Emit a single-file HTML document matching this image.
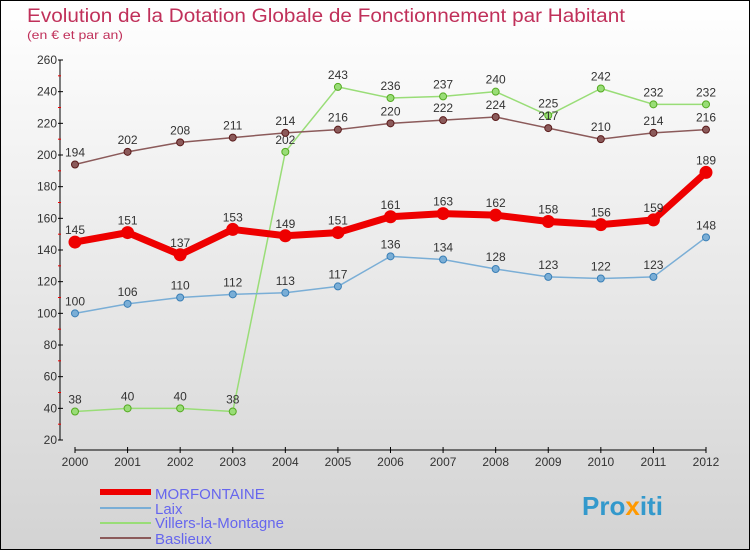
<!DOCTYPE html>
<html><head><meta charset="utf-8"><style>
body{margin:0}svg{display:block;font-family:"Liberation Sans",sans-serif}
</style></head><body>
<svg id="c" width="750" height="550">
<defs><linearGradient id="bg" x1="0" y1="0" x2="0" y2="1"><stop offset="0" stop-color="#ffffff"/><stop offset="1" stop-color="#d3d3d3"/></linearGradient></defs>
<rect x="0.5" y="0.5" width="749" height="549" fill="url(#bg)" stroke="#000"/>
<text x="27" y="22" font-size="19" fill="#c0305a" textLength="598" lengthAdjust="spacingAndGlyphs">Evolution de la Dotation Globale de Fonctionnement par Habitant</text>
<text x="27" y="39" font-size="12" fill="#c0305a" textLength="96" lengthAdjust="spacingAndGlyphs">(en € et par an)</text>
<g id="axes"></g><g id="series"></g>
<g>
<rect x="100" y="489" width="51" height="6" fill="#e00"/>
<text x="155" y="499" font-size="15" fill="#6666ee">MORFONTAINE</text>
<rect x="100" y="507" width="51" height="2" fill="#7aaed6"/>
<text x="155" y="514" font-size="15" fill="#6666ee">Laix</text>
<rect x="100" y="522" width="51" height="2" fill="#99dd77"/>
<text x="155" y="528" font-size="15" fill="#6666ee">Villers-la-Montagne</text>
<rect x="100" y="537" width="51" height="2" fill="#8b5a5a"/>
<text x="155" y="544" font-size="15" fill="#6666ee">Baslieux</text>
</g>
<text x="582" y="515" font-size="26" font-weight="bold" fill="#3399cc">Pro<tspan fill="#ff9900">x</tspan>iti</text>
</svg>
<script>
const years=[2000,2001,2002,2003,2004,2005,2006,2007,2008,2009,2010,2011,2012];
const yTicks=[20,40,60,80,100,120,140,160,180,200,220,240,260];
const morfontaine=[145,151,137,153,149,151,161,163,162,158,156,159,189];
const laix=[100,106,110,112,113,117,136,134,128,123,122,123,148];
const villers=[38,40,40,38,202,243,236,237,240,225,242,232,232];
const baslieux=[194,202,208,211,214,216,220,222,224,217,210,214,216];
const NS="http://www.w3.org/2000/svg";
const X=i=>75+i*(706-75)/12, Y=v=>440-(v-20)*380/240;
function mk(t,a,p){const e=document.createElementNS(NS,t);for(const k in a)e.setAttribute(k,a[k]);p.appendChild(e);return e;}
const ax=document.getElementById('axes'),sg=document.getElementById('series');
let e=mk('line',{x1:60,y1:60,x2:60,y2:440,stroke:'#000'},ax);

e=mk('line',{x1:X(0),y1:450,x2:X(12),y2:450,stroke:'#000'},ax);

yTicks.forEach((v,i)=>{mk('line',{x1:58,y1:Y(v),x2:63,y2:Y(v),stroke:'#000'},ax);
if(i<yTicks.length-1)mk('line',{x1:58,y1:Y(v+10),x2:61,y2:Y(v+10),stroke:'#e00'},ax);
const t=mk('text',{x:57,y:Y(v)+4,'font-size':12,fill:'#333','text-anchor':'end'},ax);t.textContent=v;
});
years.forEach((y,i)=>{mk('line',{x1:X(i),y1:447,x2:X(i),y2:453,stroke:'#000'},ax);
const t=mk('text',{x:X(i),y:466,'font-size':12,fill:'#333','text-anchor':'middle'},ax);t.textContent=y;
});
function series(d,name,col,dark,w,r){const g=mk('g',{},sg);

const l=mk('polyline',{points:d.map((v,i)=>X(i)+','+Y(v)).join(' '),fill:'none',stroke:col,'stroke-width':w,'stroke-linejoin':'round'},g);

d.forEach((v,i)=>{const c=mk('circle',{cx:X(i),cy:Y(v),r:r,fill:col,stroke:dark,'stroke-width':1},g);

const t=mk('text',{x:X(i),y:Y(v)-8,'font-size':12,fill:'#333','text-anchor':'middle'},g);t.textContent=v;
});}
series(villers,'villers','#99dd77','#55aa22',1.5,3.5);
series(laix,'laix','#7aaed6','#3a7fb6',1.5,3.5);
series(baslieux,'baslieux','#8b5a5a','#5a1a1a',1.5,3.5);
series(morfontaine,'morfontaine','#ee0000','#ee0000',7,6);
</script>
</body></html>
